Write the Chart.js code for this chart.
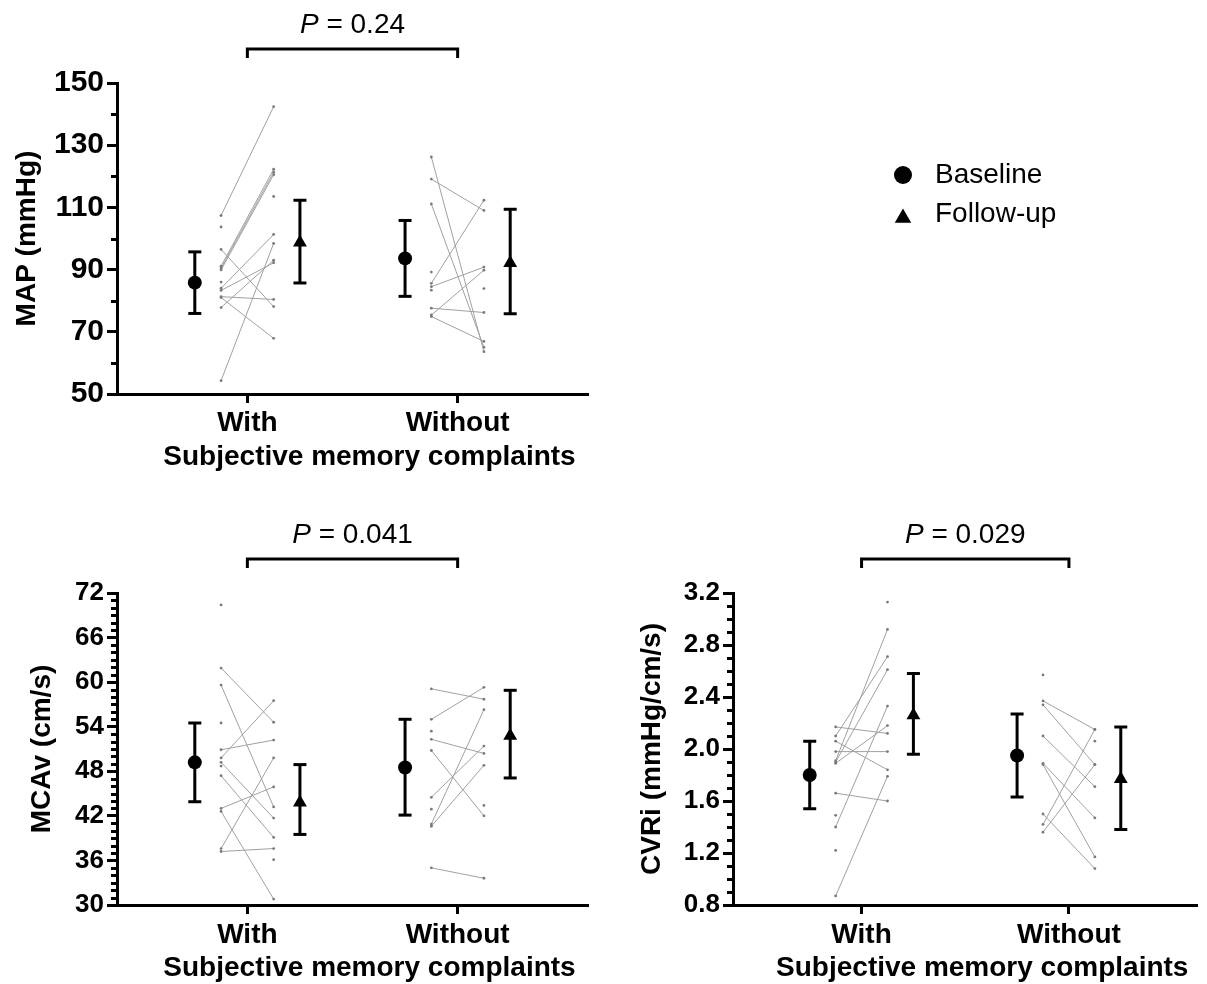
<!DOCTYPE html>
<html>
<head>
<meta charset="utf-8">
<title>MAP, MCAv and CVRi by subjective memory complaints</title>
<script src="https://cdn.jsdelivr.net/npm/chart.js@4.4.1/dist/chart.umd.min.js"></script>
<style>
    html, body { margin: 0; padding: 0; background: #fff; }
    body { position: relative; width: 1207px; height: 984px; overflow: hidden; }
    canvas { position: absolute; }
    #mapChart { left: 0; top: 0; }
    #mcavChart { left: 0; top: 500px; }
    #cvriChart { left: 615px; top: 500px; }
</style>
</head>
<body>
<canvas id="mapChart" width="1207" height="490"></canvas>
<canvas id="mcavChart" width="607" height="484"></canvas>
<canvas id="cvriChart" width="592" height="484"></canvas>
<script>
const groups = ['With', 'Without'];
const groupX = [1, 2];
const pValues = ['0.24', '0.041', '0.029'];
const legendLabels = ['Baseline', 'Follow-up'];
const xTitle = 'Subjective memory complaints';

// MAP (mmHg)
const mapTicks = [50, 70, 90, 110, 130, 150];
const mapWithBaseline = [107.4, 103.7, 96.5, 91.1, 90.5, 89.9, 86.0, 84.0, 83.3, 81.3, 81.0, 77.8, 54.3, null];
const mapWithFollowUp = [142.4, null, 78.1, 122.3, 121.3, 120.5, null, 101.3, 92.2, 80.4, 67.9, 93.0, 98.4, 113.5];
const mapWithoutBaseline = [126.2, 119.1, 111.1, 89.2, 85.6, 84.5, 83.4, 77.6, 75.4, 74.9, null];
const mapWithoutFollowUp = [63.6, 109.0, 65.0, null, 112.3, 90.8, null, 76.2, 89.8, 66.9, 83.9];
const mapBaselineMean = [85.8, 93.6];
const mapBaselineLow = [75.9, 81.4];
const mapBaselineHigh = [95.7, 105.8];
const mapFollowUpMean = [98.7, 92.1];
const mapFollowUpLow = [85.7, 75.8];
const mapFollowUpHigh = [112.3, 109.4];

// MCAv (cm/s)
const mcavTicks = [30, 36, 42, 48, 54, 60, 66, 72];
const mcavWithBaseline = [70.4, 61.9, 59.6, 54.5, 50.9, 49.8, 49.2, 48.7, 47.4, 43.0, 42.6, 37.6, 37.2, null];
const mcavWithFollowUp = [null, 54.6, 43.2, null, 52.2, 57.5, 41.7, null, 39.1, 45.9, 30.8, 49.8, 37.6, 36.1];
const mcavWithoutBaseline = [59.1, 55.0, 53.4, 52.3, 50.8, 44.5, 42.9, 40.9, 40.6, 35.0, null];
const mcavWithoutFollowUp = [57.7, 59.3, null, 50.4, 42.0, 51.4, null, 56.3, 48.8, 33.6, 43.4];
const mcavBaselineMean = [49.2, 48.5];
const mcavBaselineLow = [43.9, 42.1];
const mcavBaselineHigh = [54.5, 55.0];
const mcavFollowUpMean = [43.8, 52.8];
const mcavFollowUpLow = [39.5, 47.1];
const mcavFollowUpHigh = [48.9, 58.9];

// CVRi (mmHg/cm/s)
const cvriTicks = [0.8, 1.2, 1.6, 2.0, 2.4, 2.8, 3.2];
const cvriWithBaseline = [2.17, 2.10, 2.06, 1.98, 1.91, 1.90, 1.89, 1.66, 1.49, 1.40, 1.22, 0.87, null];
const cvriWithFollowUp = [2.12, 2.71, 1.84, 1.98, 2.92, 2.61, 2.18, 1.60, null, 2.33, null, 1.79, 3.13];
const cvriWithoutBaseline = [2.57, 2.37, 2.34, 2.10, 1.89, 1.88, 1.50, 1.42, 1.36, null];
const cvriWithoutFollowUp = [null, 2.15, 1.88, 1.71, 1.47, 1.17, 1.08, 2.15, 1.88, 2.06];
const cvriBaselineMean = [1.80, 1.95];
const cvriBaselineLow = [1.54, 1.63];
const cvriBaselineHigh = [2.06, 2.27];
const cvriFollowUpMean = [2.26, 1.77];
const cvriFollowUpLow = [1.96, 1.38];
const cvriFollowUpHigh = [2.58, 2.17];

const X_MIN = 0.38, X_MAX = 2.62;
const MEAN_SHIFT = 0.25, SUBJECT_SHIFT = 0.125;
const FONT = '"Liberation Sans", Arial, Helvetica, sans-serif';

Chart.defaults.font.family = FONT;
Chart.defaults.color = '#000';

function subjectSets(baseline, followUp, gx) {
    return baseline.map((b, i) => {
        const f = followUp[i];
        const pts = [];
        if (b != null) pts.push({x: gx - SUBJECT_SHIFT, y: b});
        if (f != null) pts.push({x: gx + SUBJECT_SHIFT, y: f});
        return {
            data: pts,
            showLine: pts.length === 2,
            borderColor: '#a0a0a0',
            borderWidth: 1,
            pointRadius: 1.4,
            pointBackgroundColor: '#7a7a7a',
            pointBorderWidth: 0
        };
    });
}

function errorBarSets(low, high, shift) {
    return groupX.map((gx, i) => ({
        data: [{x: gx + shift, y: low[i]}, {x: gx + shift, y: high[i]}],
        showLine: true,
        borderColor: '#000',
        borderWidth: 3,
        pointStyle: 'line',
        pointRadius: 6.5,
        pointBorderWidth: 3,
        pointBorderColor: '#000'
    }));
}

function meanSet(mean, shift, style, radius) {
    return {
        data: groupX.map((gx, i) => ({x: gx + shift, y: mean[i]})),
        pointStyle: style,
        pointRadius: radius,
        pointBackgroundColor: '#000',
        pointBorderColor: '#000',
        pointBorderWidth: 0
    };
}

// minor y ticks, the P-value bracket and the x title (sits a little right of centre)
function decorPlugin(p) {
    return {
        id: 'panelDecor',
        afterDraw(chart) {
            const {ctx, chartArea, scales: {x, y}} = chart;
            ctx.save();
            ctx.strokeStyle = '#000';
            ctx.lineWidth = 3;
            const majors = y.ticks.map(t => t.value);
            const n = Math.round((y.max - y.min) / p.minorStep);
            for (let k = 0; k <= n; k++) {
                const v = y.min + k * p.minorStep;
                if (majors.some(m => Math.abs(m - v) < p.minorStep / 100)) continue;
                const py = Math.round(y.getPixelForValue(v)) + 0.5;
                ctx.beginPath();
                ctx.moveTo(chartArea.left - 6, py);
                ctx.lineTo(chartArea.left, py);
                ctx.stroke();
            }

            const x1 = x.getPixelForValue(groupX[0]);
            const x2 = x.getPixelForValue(groupX[1]);
            const by = chartArea.top - 34;
            ctx.lineJoin = 'miter';
            ctx.beginPath();
            ctx.moveTo(x1, by + 9);
            ctx.lineTo(x1, by);
            ctx.lineTo(x2, by);
            ctx.lineTo(x2, by + 9);
            ctx.stroke();

            ctx.fillStyle = '#000';
            ctx.textBaseline = 'middle';
            ctx.textAlign = 'left';
            const ty = chartArea.top - 58;
            ctx.font = 'italic 28px ' + FONT;
            const pW = ctx.measureText('P').width;
            ctx.font = '28px ' + FONT;
            const rest = ' = ' + p.pValue;
            const restW = ctx.measureText(rest).width;
            const sx = (x1 + x2) / 2 - (pW + restW) / 2;
            ctx.font = 'italic 28px ' + FONT;
            ctx.fillText('P', sx, ty);
            ctx.font = '28px ' + FONT;
            ctx.fillText(rest, sx + pW, ty);

            ctx.textAlign = 'center';
            ctx.font = 'bold 28px ' + FONT;
            ctx.fillText(xTitle, (chartArea.left + chartArea.right) / 2 + 17, chartArea.bottom + p.xTitleDy);
            ctx.restore();
        }
    };
}

const legendPlugin = {
    id: 'groupLegend',
    afterDraw(chart) {
        const ctx = chart.ctx;
        const lx = 903;
        ctx.save();
        ctx.fillStyle = '#000';
        ctx.beginPath();
        ctx.arc(lx, 175, 9, 0, Math.PI * 2);
        ctx.fill();
        const r = 9.5, cy = 218;
        ctx.beginPath();
        ctx.moveTo(lx, cy - r);
        ctx.lineTo(lx + r * Math.sin(Math.PI * 2 / 3), cy + r / 2);
        ctx.lineTo(lx - r * Math.sin(Math.PI * 2 / 3), cy + r / 2);
        ctx.closePath();
        ctx.fill();
        ctx.font = '28px ' + FONT;
        ctx.textBaseline = 'middle';
        ctx.fillText(legendLabels[0], 935, 175);
        ctx.fillText(legendLabels[1], 935, 214);
        ctx.restore();
    }
};

function makePanel(id, p) {
    const ctx = document.getElementById(id).getContext('2d');
    const datasets = [
        meanSet(p.baseMean, -MEAN_SHIFT, 'circle', 7),
        meanSet(p.followMean, MEAN_SHIFT, 'triangle', 8),
        ...errorBarSets(p.baseLow, p.baseHigh, -MEAN_SHIFT),
        ...errorBarSets(p.followLow, p.followHigh, MEAN_SHIFT),
        ...subjectSets(p.withBase, p.withFollow, groupX[0]),
        ...subjectSets(p.withoutBase, p.withoutFollow, groupX[1])
    ];
    const plugins = [decorPlugin(p)];
    if (p.legend) plugins.push(legendPlugin);

    return new Chart(ctx, {
        type: 'scatter',
        data: { datasets: datasets },
        options: {
            responsive: false,
            animation: false,
            events: [],
            layout: { padding: p.padding },
            plugins: {
                legend: { display: false },
                tooltip: { enabled: false }
            },
            scales: {
                x: {
                    type: 'linear',
                    min: X_MIN,
                    max: X_MAX,
                    afterBuildTicks: s => { s.ticks = groupX.map(v => ({value: v})); },
                    afterFit: s => { s.height = p.xHeight; },
                    grid: { display: true, drawOnChartArea: false, drawTicks: true, tickLength: 9, tickWidth: 3, tickColor: '#000' },
                    border: { display: true, color: '#000', width: 3 },
                    ticks: {
                        callback: (v, i) => groups[i],
                        font: { size: 28, weight: 'bold' },
                        color: '#000',
                        padding: p.xTickPad,
                        maxRotation: 0,
                        autoSkip: false
                    }
                },
                y: {
                    min: p.ticks[0],
                    max: p.ticks[p.ticks.length - 1],
                    afterBuildTicks: s => { s.ticks = p.ticks.map(v => ({value: v})); },
                    afterFit: s => { s.width = p.yWidth; },
                    grid: { display: true, drawOnChartArea: false, drawTicks: true, tickLength: 10, tickWidth: 3, tickColor: '#000' },
                    border: { display: true, color: '#000', width: 3 },
                    ticks: {
                        callback: v => v.toFixed(p.decimals),
                        font: { size: p.yTickSize, weight: 'bold' },
                        color: '#000',
                        padding: 3
                    },
                    title: {
                        display: true,
                        text: p.yTitle,
                        font: { size: 28, weight: 'bold' },
                        color: '#000',
                        padding: { top: p.yTitlePad, bottom: 0 }
                    }
                }
            }
        },
        plugins: plugins
    });
}

makePanel('mapChart', {
    ticks: mapTicks, minorStep: 10, decimals: 0, yTickSize: 30, yTitle: 'MAP (mmHg)', pValue: pValues[0],
    withBase: mapWithBaseline, withFollow: mapWithFollowUp,
    withoutBase: mapWithoutBaseline, withoutFollow: mapWithoutFollowUp,
    baseMean: mapBaselineMean, baseLow: mapBaselineLow, baseHigh: mapBaselineHigh,
    followMean: mapFollowUpMean, followLow: mapFollowUpLow, followHigh: mapFollowUpHigh,
    padding: { top: 83, right: 619, bottom: 0, left: 0 },
    yWidth: 117, xHeight: 96, yTitlePad: 10, xTickPad: 3, xTitleDy: 63,
    legend: true
});

makePanel('mcavChart', {
    ticks: mcavTicks, minorStep: 1, decimals: 0, yTickSize: 26, yTitle: 'MCAv (cm/s)', pValue: pValues[1],
    withBase: mcavWithBaseline, withFollow: mcavWithFollowUp,
    withoutBase: mcavWithoutBaseline, withoutFollow: mcavWithoutFollowUp,
    baseMean: mcavBaselineMean, baseLow: mcavBaselineLow, baseHigh: mcavBaselineHigh,
    followMean: mcavFollowUpMean, followLow: mcavFollowUpLow, followHigh: mcavFollowUpHigh,
    padding: { top: 93, right: 19, bottom: 0, left: 0 },
    yWidth: 117, xHeight: 79, yTitlePad: 25, xTickPad: 4, xTitleDy: 63
});

makePanel('cvriChart', {
    ticks: cvriTicks, minorStep: 0.1, decimals: 1, yTickSize: 26, yTitle: 'CVRi (mmHg/cm/s)', pValue: pValues[2],
    withBase: cvriWithBaseline, withFollow: cvriWithFollowUp,
    withoutBase: cvriWithoutBaseline, withoutFollow: cvriWithoutFollowUp,
    baseMean: cvriBaselineMean, baseLow: cvriBaselineLow, baseHigh: cvriBaselineHigh,
    followMean: cvriFollowUpMean, followLow: cvriFollowUpLow, followHigh: cvriFollowUpHigh,
    padding: { top: 93, right: 7, bottom: 0, left: 0 },
    yWidth: 118, xHeight: 79, yTitlePad: 20, xTickPad: 4, xTitleDy: 63
});
</script>
</body>
</html>
